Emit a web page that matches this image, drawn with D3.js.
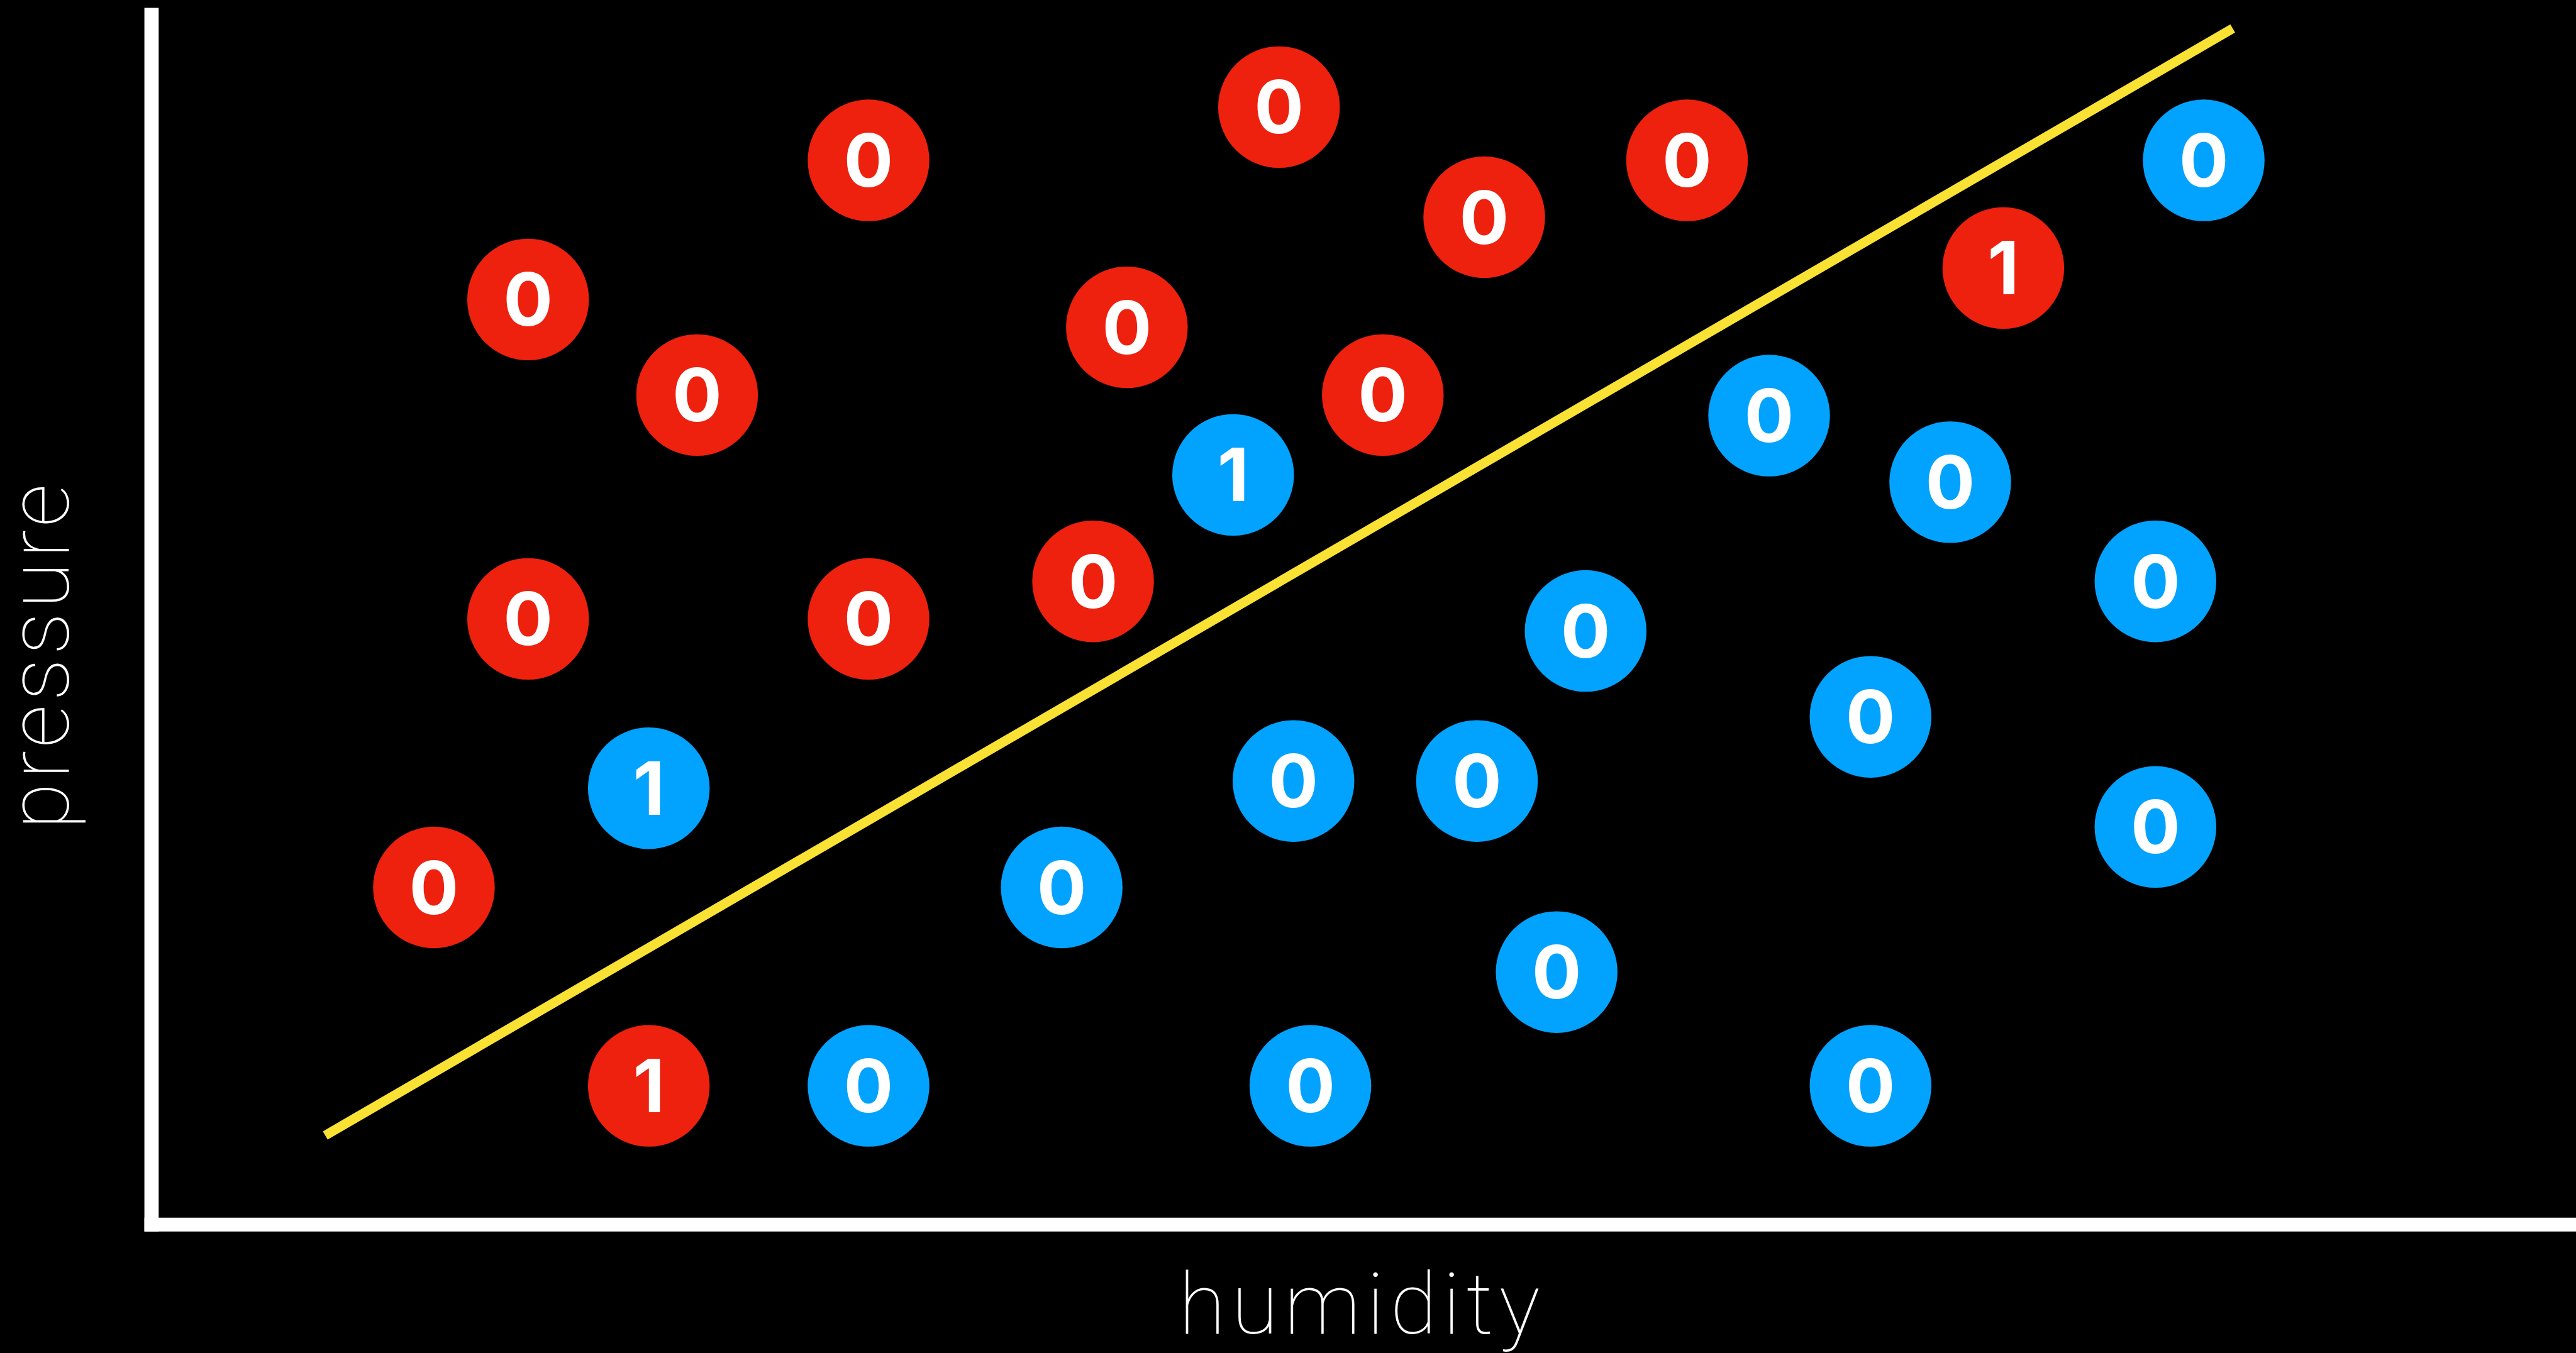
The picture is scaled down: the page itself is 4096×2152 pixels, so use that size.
<!DOCTYPE html>
<html>
<head>
<meta charset="utf-8">
<script src="https://cdn.jsdelivr.net/npm/d3@7"></script>
<style>
  html, body { margin: 0; padding: 0; background: #000; }
  svg { display: block; }
</style>
</head>
<body>
<svg id="chart"></svg>
<script>
// points (humidity / pressure in plot units 0-100)
const humidity = [
  29.4, 46.4, 54.9, 63.3, 15.3, 22.3, 40.1, 50.7, 76.4, 15.3, 29.4, 38.7, 11.4, 20.3,
  84.7, 66.7, 74.2, 44.5, 82.7, 59.1, 70.9, 20.3, 47.0, 54.6, 82.7, 37.4, 57.9, 29.4, 47.7, 70.9
];
const pressure = [
  87.4, 91.8, 82.7, 87.4, 75.9, 68.0, 73.6, 68.0, 78.5, 49.5, 49.5, 52.6, 27.3, 10.9,
  87.4, 66.3, 60.8, 61.4, 52.6, 48.5, 41.4, 35.5, 36.1, 36.1, 32.3, 27.3, 20.3, 10.9, 10.9, 10.9
];
const actual = [
  0, 0, 0, 0, 0, 0, 0, 0, 0, 0, 0, 0, 0, 0,
  1, 1, 1, 1, 1, 1, 1, 1, 1, 1, 1, 1, 1, 1, 1, 1
];
const labels = [
  "0", "0", "0", "0", "0", "0", "0", "0", "1", "0", "0", "0", "0", "1",
  "0", "0", "0", "1", "0", "0", "0", "1", "0", "0", "0", "0", "0", "0", "0", "0"
];
const boundaryHumidity = [6.9, 85.9];
const boundaryPressure = [6.8, 98.3];

const width = 4096;
const height = 2152;
const k = 0.841;

const svg = d3.select("#chart")
  .attr("width", width)
  .attr("height", height);

svg.append("rect")
  .attr("width", width)
  .attr("height", height)
  .attr("fill", "#000");

const x = d3.scaleLinear()
  .domain([0, 100])
  .range([300 * k, 4865 * k]);

const y = d3.scaleLinear()
  .domain([0, 100])
  .range([2303 * k, 15 * k]);

const color = d3.scaleOrdinal()
  .domain([0, 1])
  .range(["#ee210e", "#02a3fe"]);

// axes: thick white bars, no ticks
svg.append("line")
  .attr("x1", x.range()[0] - 27 * k)
  .attr("x2", width)
  .attr("y1", y.range()[0] + 13 * k)
  .attr("y2", y.range()[0] + 13 * k)
  .attr("stroke", "#fff")
  .attr("stroke-width", 26 * k);

svg.append("line")
  .attr("x1", x.range()[0] - 13.5 * k)
  .attr("x2", x.range()[0] - 13.5 * k)
  .attr("y1", y.range()[1])
  .attr("y2", y.range()[0] + 26 * k)
  .attr("stroke", "#fff")
  .attr("stroke-width", 27 * k);

// decision boundary
const boundary = boundaryHumidity.map((h, i) => ({ h, p: boundaryPressure[i] }));
svg.append("path")
  .datum(boundary)
  .attr("fill", "none")
  .attr("stroke", "#f9e233")
  .attr("stroke-width", 18 * k)
  .attr("d", d3.line().x(d => x(d.h)).y(d => y(d.p)));

// points
const points = humidity.map((h, i) => ({
  h, p: pressure[i], cls: actual[i], label: labels[i]
}));

const g = svg.selectAll("g.pt")
  .data(points)
  .enter()
  .append("g")
  .attr("class", "pt")
  .attr("transform", d => `translate(${x(d.h)},${y(d.p)})`);

g.append("circle")
  .attr("r", 115 * k)
  .attr("fill", d => color(d.cls));

g.append("text")
  .attr("text-anchor", "middle")
  .attr("dy", "0.36em")
  .attr("fill", "#fff")
  .attr("font-family", "Inter, 'Open Sans', sans-serif")
  .attr("font-weight", 700)
  .attr("font-size", 139 * k)
  .text(d => d.label);

// axis titles
svg.append("text")
  .attr("x", 2570 * k)
  .attr("y", 2522 * k)
  .attr("text-anchor", "middle")
  .attr("fill", "#fff")
  .attr("font-family", "Roboto, Lato, sans-serif")
  .attr("font-weight", 100)
  .attr("font-size", 162 * k)
  .attr("textLength", 683 * k)
  .attr("lengthAdjust", "spacing")
  .text("humidity");

svg.append("text")
  .attr("transform", `translate(${130 * k},${1242 * k}) rotate(-90)`)
  .attr("text-anchor", "middle")
  .attr("fill", "#fff")
  .attr("font-family", "Roboto, Lato, sans-serif")
  .attr("font-weight", 100)
  .attr("font-size", 162 * k)
  .attr("textLength", 654 * k)
  .attr("lengthAdjust", "spacing")
  .text("pressure");
</script>
</body>
</html>
